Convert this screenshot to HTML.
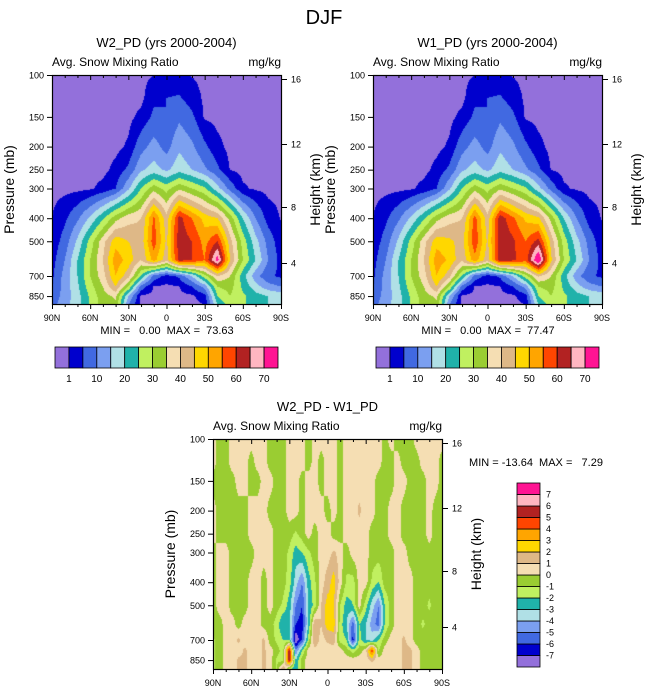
<!DOCTYPE html>
<html><head><meta charset="utf-8">
<style>
body{margin:0;background:#fff;width:648px;height:694px;position:relative;overflow:hidden;font-family:"Liberation Sans",Arial,sans-serif;}
canvas{position:absolute;}
svg{position:absolute;left:0;top:0;}
</style></head>
<body>
<canvas id="c1" width="229" height="229" style="left:52px;top:75px"></canvas>
<canvas id="c2" width="229" height="229" style="left:373px;top:75px"></canvas>
<canvas id="c3" width="229" height="230" style="left:213px;top:439px"></canvas>
<svg id="ov" width="648" height="694"></svg>
<script>
// ---- data ----
const lats = ["90N","80N","70N","60N","50N","40N","30N","20N","10N","EQ","10S","20S","30S","40S","50S","60S","70S","80S","90S"];
const diffLats = ["90N","85N","80N","75N","70N","65N","60N","55N","50N","45N","40N","35N","30N","25N","20N","15N","10N","5N","EQ","5S","10S","15S","20S","25S","30S","35S","40S","45S","50S","55S","60S","65S","70S","75S","80S","85S","90S"];
const pressures = [100,125,150,200,250,300,400,500,600,700,775,850,925];
const w2Values = [
[0,0,0,0,0,0,0,0,1,2,2,0.8,0,0,0,0,0,0,0],
[0,0,0,0,0,0,0,0,4,5,5.5,3,0.3,0,0,0,0,0,0],
[0,0,0,0,0,0,0,2,6,5,9,6,0.5,0,0,0,0,0,0],
[0,0,0,0,0,0,1.5,8,12,8,14,11,6,2,0,0,0,0,0],
[0,0,0,0,0,2,6,14,17,14,18,15,11,6,0.8,0,0,0,0],
[0,0,0,0.5,2,5,14,25,33,28,34,30,26,17,8,1.5,0.5,0,0],
[1,4,9,16,24,33,38,40,56,42,62,55,48,45,33,20,10,3,0.8],
[2,7,16,27,38,48,45,42,58,44,63,60,53,60,42,28,17,8,2],
[3,10,20,30,40,53,48,40,52,42,62,60,55,73,45,30,20,10,3],
[4,12,20,30,38,50,42,25,8,3,6,15,28,40,35,22,12,6,4],
[5,12,19,28,35,45,30,8,0.8,0.3,1,5,12,30,32,24,17,12,10],
[7,12,18,26,33,36,15,0.3,0,0,0,0.3,3,25,30,26,22,20,18],
[8,13,18,26,32,34,10,0,0,0,0,0,1,20,28,26,22,20,18]];
const w1Values = [
[0,0,0,0,0,0,0,0,1,2,2,0.8,0,0,0,0,0,0,0],
[0,0,0,0,0,0,0,0,4,5,5.5,3,0.3,0,0,0,0,0,0],
[0,0,0,0,0,0,0,2,6,5,9,6,0.5,0,0,0,0,0,0],
[0,0,0,0,0,0,1.5,8,12,8,14,11,6,2,0,0,0,0,0],
[0,0,0,0,0,2,6,14,17,14,18,15,11,6,0.8,0,0,0,0],
[0,0,0,0.5,2,5,14,25,33,28,34,30,26,17,8,1.5,0.5,0,0],
[1,4,9,16,24,33,38,40,57,42,63,56,49,46,33,20,10,3,0.8],
[2,7,16,27,38,48,46,43,59,44,64,61,55,62,43,28,17,8,2],
[3,10,20,30,40,53,49,41,53,42,63,61,57,77,46,30,20,10,3],
[4,12,20,30,38,50,42,25,8,3,6,15,28,41,35,22,12,6,4],
[5,12,19,28,35,45,30,8,0.8,0.3,1,5,12,30,32,24,17,12,10],
[7,12,18,26,33,36,15,0.3,0,0,0,0.3,3,25,30,26,22,20,18],
[8,13,18,26,32,34,10,0,0,0,0,0,1,20,28,26,22,20,18]];
const diffValues = [
[.5,-.5,-.5,.5,.5,.5,.5,.5,.5,-.5,-.5,-.5,.5,.5,.5,-.5,.5,.5,.5,.5,-.5,.5,.5,.5,.5,.5,.5,-.5,.5,-.5,-.5,-.5,.5,.5,.5,.5,.5],
[.5,-.5,-.5,.5,.5,.5,-.5,.5,.5,-.5,-.5,-.5,.5,.5,.5,-.5,.5,-.5,.5,.5,-.5,.5,.5,.5,.5,.5,.5,-.5,-.5,.5,-.5,-.5,-.5,.5,.5,.5,-.5],
[-.5,-.5,-.5,-.5,.5,.5,-.5,-.5,.5,.5,-.5,-.5,.5,.5,-.5,.5,.5,-.5,.5,.5,-.5,.5,.5,.5,.5,.5,-.5,-.5,-.5,.5,.5,-.5,-.5,-.5,.5,.5,-.5],
[.5,-.5,-.5,-.5,-.5,-.5,.5,.5,.5,-.5,-.5,-.5,.5,.5,-.5,.5,.5,.5,-.5,.5,-.5,.5,.5,1.2,.5,.5,-.5,-.5,.5,.5,-.5,-.5,-.5,-.5,.5,-.5,-.5],
[.5,-.5,-.5,-.5,-.5,-.5,.5,.5,.5,.5,-.5,-.5,-.5,-1.2,-.5,.5,-.5,.5,.5,-.5,-.5,.5,.5,.5,.5,-.5,-.5,-.5,.5,.5,-.5,-.5,-.5,-.5,.5,-.5,-.5],
[-.5,.5,.5,-.5,-.5,-.5,-.5,.5,.5,.5,-.5,-.5,-1.2,-2.5,-2,-1.2,-.5,.5,.5,1.2,.5,-.5,.5,.5,.5,-.5,-.5,-.5,-.5,.5,.5,-.5,-.5,-.5,-.5,-.5,-.5],
[-.5,.5,.5,-.5,-.5,-.5,.5,.5,-.5,.5,-.5,-.5,-1.5,-3.5,-5,-2.5,-1.2,.5,1.5,2.5,.5,-1.2,-1.5,.5,.5,-1.2,-2,-.5,-.5,.5,.5,.5,-.5,-.5,-.5,-.5,-.5],
[-.5,.5,.5,-.5,-.5,-.5,.5,.5,-.5,.5,-.5,-1.2,-2.5,-5,-6,-3,-1.5,1,2.5,2,-1,-2.5,-2,.5,-1.5,-3.5,-5,-2,-.5,.5,.5,.5,-.5,-.5,-1.2,-.5,-.5],
[-.5,-.5,.5,.5,-.5,.5,.5,.5,-.5,-.5,-1.5,-3,-2.5,-6,-6.5,-3,2,1,2.5,2.5,-1.5,-3,-5.5,-2,-3,-4.5,-5.5,-2,-.5,.5,.5,.5,-.5,-1.2,-.5,-.5,-.5],
[-1.2,-.5,.5,.5,1.2,.5,.5,.5,1.2,-.5,-1.2,-2,-2,-8,-6,-1.5,2,.5,1.2,1.5,-1.5,-2,-6.5,-1.5,-3,-3.5,-2,-.5,.5,.5,1.2,.5,-.5,-.5,-.5,-.5,-.5],
[-1.2,-.5,.5,.5,.5,1.2,.5,.5,1.2,.5,-.5,-1.5,6,-5,-2,.5,.5,.5,.5,.5,.5,-.5,-1.5,-.5,.5,5,-1.2,.5,.5,.5,1.2,1.2,.5,-.5,-.5,-.5,-.5],
[-1.2,-.5,.5,.5,1.2,1.2,.5,.5,1.2,.5,-1.2,-1.5,6,-3,-.5,.5,.5,.5,.5,.5,.5,.5,.5,.5,.5,1.2,.5,.5,.5,.5,1.2,1.2,.5,-.5,-.5,-.5,-.5],
[-1.2,-.5,.5,.5,1.2,1.2,.5,.5,1.2,.5,-1.2,2,-1.5,-3,-.5,.5,.5,.5,.5,.5,.5,.5,.5,.5,.5,.5,.5,.5,.5,.5,1.2,1.2,.5,-.5,-.5,-.5,-.5]];
const snowLevels = [1,5,10,15,20,25,30,35,40,45,50,55,60,65,70];
const snowLabels = ["1","10","20","30","40","50","60","70"];
const diffLevels = [-7,-6,-5,-4,-3,-2,-1,0,1,2,3,4,5,6,7];
const pTicks = [100,150,200,250,300,400,500,700,850];
const zTicks = [16,12,8,4];
const zTickY = [4,69,132,188];
const latTicks = ["90N","60N","30N","0","30S","60S","90S"];
const colors = ["#9370DB","#0000CD","#4169E1","#7B9FF0","#B0E0E6","#20B2AA","#C0F060","#9ACD32","#F5DEB3","#DEB887","#FFD700","#FFA500","#FF4500","#B22222","#FFB6C1","#FF1493"];

const PXLN = 103.3;
function py(p){return PXLN*Math.log(p/100);}
function sample(grid,fx,p){
  const n=grid[0].length;
  const lp=Math.log(p); let k=0;
  while(k<pressures.length-2 && p>pressures[k+1]) k++;
  const l0=Math.log(pressures[k]),l1=Math.log(pressures[k+1]);
  let t=(lp-l0)/(l1-l0); t=Math.max(0,Math.min(1,t));
  const i=Math.min(Math.floor(fx),n-2); const s=fx-i;
  const a=grid[k][i]*(1-s)+grid[k][i+1]*s;
  const b=grid[k+1][i]*(1-s)+grid[k+1][i+1]*s;
  return a*(1-t)+b*t;
}
function render(id,grid,levels){
  const c=document.getElementById(id),ctx=c.getContext('2d');
  const W=c.width,H=c.height,n=grid[0].length;
  for(let y=0;y<H;y++){
    const p=100*Math.exp((y+0.5)/PXLN);
    for(let x=0;x<W;x++){
      const v=sample(grid,(x+0.5)/W*(n-1),p);
      let ci=0; while(ci<levels.length && v>=levels[ci]) ci++;
      ctx.fillStyle=colors[ci]; ctx.fillRect(x,y,1,1);
    }
  }
}
render('c1',w2Values,snowLevels);
render('c2',w1Values,snowLevels);
render('c3',diffValues,diffLevels);

const NS="http://www.w3.org/2000/svg", ov=document.getElementById('ov');
function el(tag,attrs,txt){const e=document.createElementNS(NS,tag);for(const k in attrs)e.setAttribute(k,attrs[k]);if(txt!==undefined)e.textContent=txt;ov.appendChild(e);return e;}
function text(x,y,s,size,anchor,name,rot){
  const e=el('text',{x:x,y:y,'font-size':size,'text-anchor':anchor||'middle',fill:'#000','font-family':'Liberation Sans, Arial, sans-serif'},s);
  if(rot) e.setAttribute('transform','rotate(-90 '+x+' '+y+')');
  
  
  return e;
}
function line(x1,y1,x2,y2,name){
  const e=el('line',{x1:x1,y1:y1,x2:x2,y2:y2,stroke:'#000','stroke-width':1});
  
  
}
function panel(x0,y0,w,h,title,pfx){
  const f=el('rect',{x:x0+0.5,y:y0+0.5,width:w,height:h,fill:'none',stroke:'#000','stroke-width':1.2});
  
  
  text(x0+w/2,y0-28,title,13,'middle',pfx+'-title');
  text(x0,y0-9,'Avg. Snow Mixing Ratio',12,'start',pfx+'-subtitle');
  text(x0+w,y0-9,'mg/kg',12,'end',pfx+'-units');
  for(let d=0;d<=18;d++){
    const x=x0+0.5+d*w/18, maj=d%3===0;
    line(x,y0,x,y0+(maj?5:3),pfx+'-top-tick');
    line(x,y0+h,x,y0+h+(maj?5:3),pfx+'-bottom-tick');
  }
  latTicks.forEach((s,i)=>text(x0+i*w/6,y0+h+17,s,9,'middle',pfx+'-x-tick-label'));
  pTicks.forEach(p=>{const y=y0+py(p)+0.5;line(x0-5,y,x0,y,pfx+'-y-tick');text(x0-8,y+3,String(p),9,'end',pfx+'-y-tick-label');});
  zTicks.forEach((z,i)=>{const y=y0+zTickY[i]+0.5;line(x0+w,y,x0+w+6,y,pfx+'-z-tick');text(x0+w+10,y+3,String(z),9,'start',pfx+'-z-tick-label');});
  text(x0-38,y0+h/2,'Pressure (mb)',14,'middle',pfx+'-y-axis-title',true);
  text(x0+w+39,y0+h/2,'Height (km)',14,'middle',pfx+'-right-axis-title',true);
}
text(324,24,'DJF',20,'middle','main-title');
panel(52,75,229,229,'W2_PD (yrs 2000-2004)','w2');
panel(373,75,229,229,'W1_PD (yrs 2000-2004)','w1');
panel(213,439,229,230,'W2_PD - W1_PD','diff');
const S='\u00a0';
text(167,334,'MIN ='+S+S+S+'0.00'+S+S+'MAX ='+S+S+'73.63',11,'middle','w2-min-max');
text(488,334,'MIN ='+S+S+S+'0.00'+S+S+'MAX ='+S+S+'77.47',11,'middle','w1-min-max');
text(536,466,'MIN = -13.64'+S+S+'MAX ='+S+S+S+'7.29',11,'middle','diff-min-max');

function hbar(x0,y0,w,h,pfx){
  const bw=w/colors.length;
  colors.forEach((c,i)=>{const r=el('rect',{x:x0+i*bw,y:y0,width:bw,height:h,fill:c,stroke:'#000','stroke-width':0.8});
    
    });
  snowLabels.forEach((s,i)=>text(x0+(2*i+1)*bw,y0+h+14,s,10,'middle',pfx+'-colorbar-label'));
}
hbar(55,347,223,21,'w2');
hbar(376,347,223,21,'w1');
const vb={x:517,y:483,w:23,h:184}, bh=vb.h/colors.length;
colors.forEach((c,i)=>{const r=el('rect',{x:vb.x,y:vb.y+(colors.length-1-i)*bh,width:vb.w,height:bh,fill:c,stroke:'#000','stroke-width':0.8});
  
  });
diffLevels.forEach((v,i)=>text(vb.x+29,vb.y+(colors.length-1-i)*bh+3,String(v),9,'start','diff-colorbar-label'));
</script>
</body></html>
